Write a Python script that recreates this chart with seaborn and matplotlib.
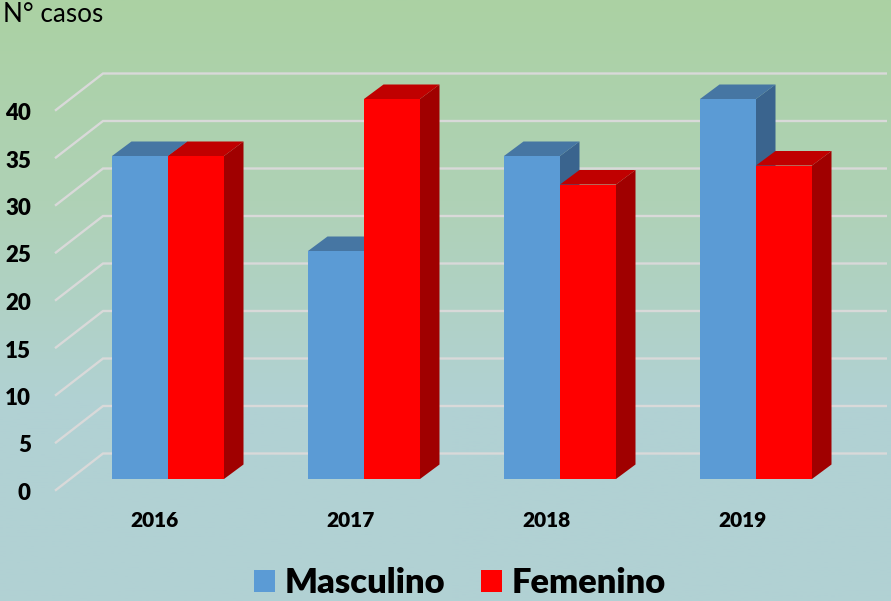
import numpy as np
import pandas as pd
import matplotlib
matplotlib.use("Agg")
import matplotlib.pyplot as plt
from matplotlib.colors import LinearSegmentedColormap
from matplotlib.patches import Polygon
from matplotlib.transforms import ScaledTranslation
import seaborn as sns

years = ["2016", "2017", "2018", "2019"]
masculino = [34, 24, 34, 40]
femenino = [34, 40, 31, 33]
y_ticks = [0, 5, 10, 15, 20, 25, 30, 35, 40]
series_names = ["Masculino", "Femenino"]
front_colors = ["#5B9BD5", "#FF0000"]
top_colors = ["#4676A3", "#C00000"]
side_colors = ["#3A648E", "#A00000"]

W, H = 891, 601
X0, XSTEP = 168.0, 196.0      # px of category 0 centre, px per category
Y0, YSTEP = 479.0, 9.5        # px of value 0, px per value unit

sns.set_theme(style="white")
plt.rcParams["font.family"] = ["Lato", "DejaVu Sans"]

fig = plt.figure(figsize=(W / 100, H / 100), dpi=100)
ax = fig.add_axes([0, 0, 1, 1])

df = pd.DataFrame({
    "anio": years * 2,
    "casos": masculino + femenino,
    "sexo": [series_names[0]] * 4 + [series_names[1]] * 4,
})
sns.barplot(data=df, x="anio", y="casos", hue="sexo", order=years,
            hue_order=series_names, palette=front_colors, saturation=1,
            width=2 * 56 / XSTEP, gap=0, ax=ax, linewidth=0)

xlim = ((0 - X0) / XSTEP, (W - X0) / XSTEP)
ylim = ((Y0 - H) / YSTEP, Y0 / YSTEP)

# background gradient
cmap = LinearSegmentedColormap.from_list("bg", ["#ABD1A3", "#AFD2B6", "#B1D1D3", "#B1D1D4"])
ax.imshow(np.linspace(0, 1, 256)[:, None], cmap=cmap, aspect="auto",
          extent=[xlim[0], xlim[1], ylim[0], ylim[1]], zorder=0, origin="upper")
ax.set_xlim(xlim)
ax.set_ylim(ylim)

# depth in data units
dx = 19.5 / XSTEP
dy = 14.5 / YSTEP

# wall and side gridlines
wall_shift = (Y0 - 453.5) / YSTEP
side_shift = (Y0 - 490.7) / YSTEP
x_wall0 = (103 - X0) / XSTEP
x_wall1 = (887 - X0) / XSTEP
x_side = (55 - X0) / XSTEP
for v in y_ticks:
    ax.plot([x_side, x_wall0, x_wall1],
            [v + side_shift, v + wall_shift, v + wall_shift],
            color="#D9D9D9", lw=1.7, zorder=1, solid_joinstyle="miter",
            solid_capstyle="butt")

# 3D faces, built from the seaborn bars
for i, container in enumerate(ax.containers):
    z = 2 + i
    for bar in container:
        x, w, h = bar.get_x(), bar.get_width(), bar.get_height()
        bar.set_zorder(z + 0.5)
        ax.add_patch(Polygon([(x + w, 0), (x + w + dx, dy), (x + w + dx, h + dy), (x + w, h)],
                             closed=True, fc=side_colors[i], ec="none", zorder=z))
        ax.add_patch(Polygon([(x, h), (x + dx, h + dy), (x + w + dx, h + dy), (x + w, h)],
                             closed=True, fc=top_colors[i], ec="none", zorder=z))

# axes text
for s in ax.spines.values():
    s.set_visible(False)
ax.grid(False)
ax.set_xlabel("")
ax.set_ylabel("")
ax.set_yticks(y_ticks)
ax.set_yticklabels([str(v) for v in y_ticks])
ax.tick_params(axis="y", length=0, pad=-31 * 0.72, labelsize=16, labelcolor="black")
ax.tick_params(axis="x", length=0, pad=-90 * 0.72, labelsize=15, labelcolor="black")
for lab in ax.get_yticklabels():
    lab.set_fontweight("heavy")
    lab.set_transform(lab.get_transform() + ScaledTranslation(0, -12.5 / 100, fig.dpi_scale_trans))
for lab in ax.get_xticklabels():
    lab.set_fontweight("heavy")
    lab.set_transform(lab.get_transform() + ScaledTranslation(-13.5 / 100, 0, fig.dpi_scale_trans))

fig.text(3 / W, 1 - 15 / H, "N° casos", fontsize=18.8, color="black", ha="left", va="center")

handles, labels = ax.get_legend_handles_labels()
leg = ax.legend(handles, labels, loc="lower center", bbox_to_anchor=(460 / W, -15 / H),
                ncols=2, frameon=False, fontsize=24.8, handlelength=0.61, handleheight=0.61,
                handletextpad=0.28, columnspacing=1.05, borderpad=0, labelcolor="black")
for t in leg.get_texts():
    t.set_fontweight("heavy")

fig.savefig("out.png", dpi=100)
